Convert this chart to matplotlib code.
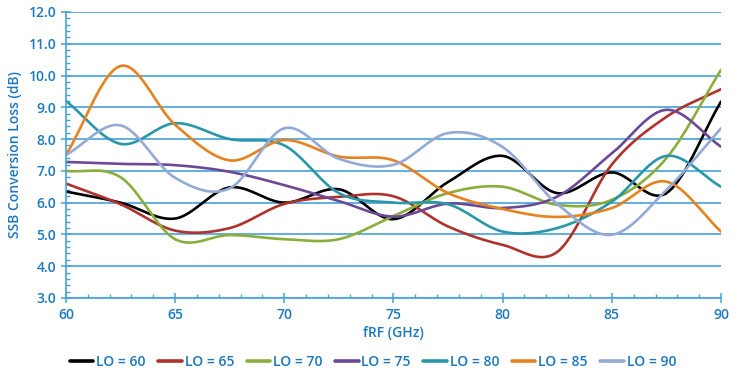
# SSB conversion loss vs RF frequency for several LO settings

import matplotlib
matplotlib.use("Agg")
import matplotlib.pyplot as plt
from matplotlib.ticker import MultipleLocator
import numpy as np

# Data (every 2.5 GHz)
freq = [60, 62.5, 65, 67.5, 70, 72.5, 75, 77.5, 80, 82.5, 85, 87.5, 90]
lo_60 = [6.35, 6.0, 5.5, 6.48, 6.0, 6.42, 5.48, 6.65, 7.47, 6.3, 6.95, 6.3, 9.18]
lo_65 = [6.6, 5.95, 5.12, 5.2, 5.96, 6.18, 6.2, 5.25, 4.67, 4.45, 7.2, 8.7, 9.57]
lo_70 = [7.0, 6.8, 4.85, 4.98, 4.85, 4.85, 5.58, 6.3, 6.5, 5.93, 6.09, 7.4, 10.18]
lo_75 = [7.28, 7.22, 7.18, 6.97, 6.55, 6.05, 5.56, 5.97, 5.83, 6.19, 7.55, 8.92, 7.76]
lo_80 = [9.2, 7.85, 8.5, 8.0, 7.8, 6.3, 6.0, 5.95, 5.09, 5.2, 6.03, 7.47, 6.5]
lo_85 = [7.5, 10.3, 8.45, 7.33, 7.97, 7.45, 7.33, 6.3, 5.8, 5.55, 5.83, 6.66, 5.09]
lo_90 = [7.5, 8.43, 6.78, 6.45, 8.34, 7.38, 7.19, 8.19, 7.75, 5.96, 4.99, 6.4, 8.34]

labels = ["LO = 60", "LO = 65", "LO = 70", "LO = 75", "LO = 80", "LO = 85", "LO = 90"]
series = [lo_60, lo_65, lo_70, lo_75, lo_80, lo_85, lo_90]
colors = ["#000000", "#b0322d", "#8aad3b", "#6b4996", "#2a97a9", "#e6821f", "#94aad4"]

BLUE = "#1b78bf"
GRID = "#45a2dc"


def smooth(x, y, n=30):
    # catmull-rom style curve through the points (like a spreadsheet smoothed line)
    x = np.asarray(x, float)
    y = np.asarray(y, float)
    px = np.concatenate([[2 * x[0] - x[1]], x, [2 * x[-1] - x[-2]]])
    py = np.concatenate([[2 * y[0] - y[1]], y, [2 * y[-1] - y[-2]]])
    xs, ys = [], []
    t = np.linspace(0, 1, n)
    for i in range(1, len(px) - 2):
        p0, p1, p2, p3 = [np.array([px[j], py[j]]) for j in range(i - 1, i + 3)]
        pts = 0.5 * ((2 * p1)[:, None] + (-p0 + p2)[:, None] * t
                     + (2 * p0 - 5 * p1 + 4 * p2 - p3)[:, None] * t ** 2
                     + (-p0 + 3 * p1 - 3 * p2 + p3)[:, None] * t ** 3)
        xs.extend(pts[0])
        ys.extend(pts[1])
    return np.array(xs), np.array(ys)


plt.rcParams["font.family"] = ["Open Sans", "DejaVu Sans"]

fig = plt.figure(figsize=(7.43, 3.72), dpi=100)
ax = fig.add_axes([0.0888, 0.199, 0.8816, 0.7688])

for vals, lab, col in zip(series, labels, colors):
    sx, sy = smooth(freq, vals)
    ax.plot(sx, sy, color=col, lw=1.9, label=lab, solid_capstyle="round")

ax.set_xlim(60, 90)
ax.set_ylim(3, 12)
ax.xaxis.set_major_locator(MultipleLocator(5))
ax.xaxis.set_minor_locator(MultipleLocator(1))
ax.yaxis.set_major_locator(MultipleLocator(1))
ax.yaxis.set_minor_locator(MultipleLocator(0.2))
ax.yaxis.set_major_formatter(matplotlib.ticker.FormatStrFormatter("%.1f"))

# grid lines
ax.grid(True, axis="y", color=GRID, lw=1.2)
ax.set_axisbelow(True)

for s in ["top", "right"]:
    ax.spines[s].set_visible(False)
for s in ["left", "bottom"]:
    ax.spines[s].set_color(GRID)
    ax.spines[s].set_linewidth(1.2)

ax.tick_params(which="major", direction="inout", length=7, width=1.1, color=GRID,
               labelcolor=BLUE, labelsize=10)
ax.tick_params(which="minor", direction="in", length=3, width=1, color=GRID)
for t in ax.get_xticklabels() + ax.get_yticklabels():
    t.set_fontweight("semibold")

ax.set_xlabel("fRF (GHz)", color=BLUE, fontsize=10, fontweight="semibold", labelpad=3)
ax.set_ylabel("SSB Conversion Loss (dB)", color=BLUE, fontsize=10, fontweight="semibold",
              labelpad=5)

leg = fig.legend(loc="center", bbox_to_anchor=(0.502, 0.028), ncol=7, frameon=False,
                 handlelength=1.7, handletextpad=0.2, columnspacing=0.9,
                 fontsize=10)
for t in leg.get_texts():
    t.set_color(BLUE)
    t.set_fontweight("semibold")
for h in leg.get_lines():
    h.set_linewidth(2.6)

fig.savefig("out.png", dpi=100)
